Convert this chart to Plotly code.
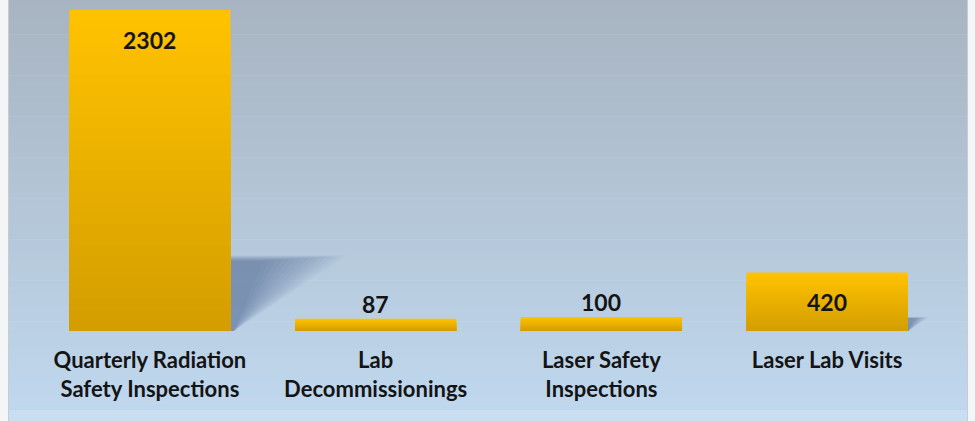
import plotly.graph_objects as go

# ---- data ----
categories = ["Quarterly Radiation<br>Safety Inspections", "Lab<br>Decommissionings",
              "Laser Safety<br>Inspections", "Laser Lab Visits"]
values = [2302, 87, 100, 420]

# ---- layout geometry (pixels) ----
W, H = 975, 421
ML, MR, MT, MB = 37, 35, 5, 90
PW, PH = W - ML - MR, H - MT - MB
ymax = max(values) * PH / 321.0
BARGAP = 0.287
BW = 1 - BARGAP


def px2paper_x(px):
    return (px - ML) / PW


def px2paper_y(py):
    return (H - MB - py) / PH


def lerp(c1, c2, t):
    return tuple(round(a + (b - a) * t) for a, b in zip(c1, c2))


def rgb(c):
    return "rgb(%d,%d,%d)" % c


fig = go.Figure()

# gradient bars: overlaid bars of decreasing height, getting darker toward the base
TOP_C, BOT_C = (255, 194, 0), (212, 158, 0)
N = 30
xs = list(range(len(values)))
for k in range(N):
    frac = 1 - k / N
    fig.add_trace(go.Bar(
        x=xs, y=[v * frac for v in values],
        marker=dict(color=rgb(lerp(TOP_C, BOT_C, k / (N - 1))), line=dict(width=0)),
        hoverinfo="skip", showlegend=False,
    ))

shapes = []
# background gradient
BG_TOP, BG_BOT = (168, 180, 193), (191, 215, 237)
y_top, y_bot = 0, 410
bands = 60
for i in range(bands):
    t0 = y_top + (y_bot - y_top) * i / bands
    t1 = y_top + (y_bot - y_top) * (i + 1) / bands
    shapes.append(dict(type="rect", xref="paper", yref="paper",
                       x0=px2paper_x(9), x1=px2paper_x(967),
                       y0=px2paper_y(t1 + 0.6), y1=px2paper_y(t0),
                       fillcolor=rgb(lerp(BG_TOP, BG_BOT, i / (bands - 1))),
                       line=dict(width=0), layer="below"))
# lighter bottom band
shapes.append(dict(type="rect", xref="paper", yref="paper",
                   x0=px2paper_x(9), x1=px2paper_x(967),
                   y0=px2paper_y(421), y1=px2paper_y(410),
                   fillcolor="rgb(202,222,241)", line=dict(width=0), layer="below"))
# frame lines
for px in (8.5, 967.5):
    shapes.append(dict(type="line", xref="paper", yref="paper",
                       x0=px2paper_x(px), x1=px2paper_x(px), y0=px2paper_y(0), y1=px2paper_y(421),
                       line=dict(color="rgb(200,204,210)", width=1), layer="below"))

# perspective shadows behind bars (derived from bar values), soft edges via layering
unit_px = PW / len(values)
for i, v in enumerate(values):
    h_px = v / ymax * PH
    if h_px < 30:
        continue
    ext = 0.36 * h_px / unit_px
    top = 0.235 * v
    xr = i + BW / 2
    layers = 14
    for j in range(layers):
        s = 1.0 - 0.055 * j
        path = "M %f,0 L %f,%f L %f,%f L %f,0 Z" % (
            xr, xr, top * (0.9 + 0.1 * s), xr + ext * s, top * (0.9 + 0.1 * s), xr + ext * 0.03)
        shapes.append(dict(type="path", xref="x", yref="y", path=path,
                           fillcolor="rgb(60,85,115)", opacity=0.04,
                           line=dict(width=0), layer="below"))

# value labels
annotations = []
for i, v in enumerate(values):
    h_px = v / ymax * PH
    inside = h_px > 40
    annotations.append(dict(x=i, y=v, xref="x", yref="y", text="<b>%d</b>" % v,
                            showarrow=False, yshift=-30 if inside else 15,
                            font=dict(family="Lato", size=23, color="#141414")))

fig.update_layout(
    width=W, height=H,
    margin=dict(l=ML, r=MR, t=MT, b=MB, pad=0),
    paper_bgcolor="rgb(244,245,247)",
    plot_bgcolor="rgba(0,0,0,0)",
    barmode="overlay", bargap=BARGAP,
    shapes=shapes, annotations=annotations,
    xaxis=dict(tickmode="array", tickvals=xs,
               ticktext=["<b>%s</b>" % c for c in categories],
               range=[-0.5, len(values) - 0.5], showgrid=False, zeroline=False,
               showline=False, ticks="", ticklabelstandoff=14,
               tickfont=dict(family="Lato", size=22, color="#141414")),
    yaxis=dict(range=[0, ymax], visible=False, showgrid=False, zeroline=False),
    showlegend=False,
)

fig.write_html("out.html", config={"displayModeBar": False},
               post_script="document.body.style.margin='0';")
